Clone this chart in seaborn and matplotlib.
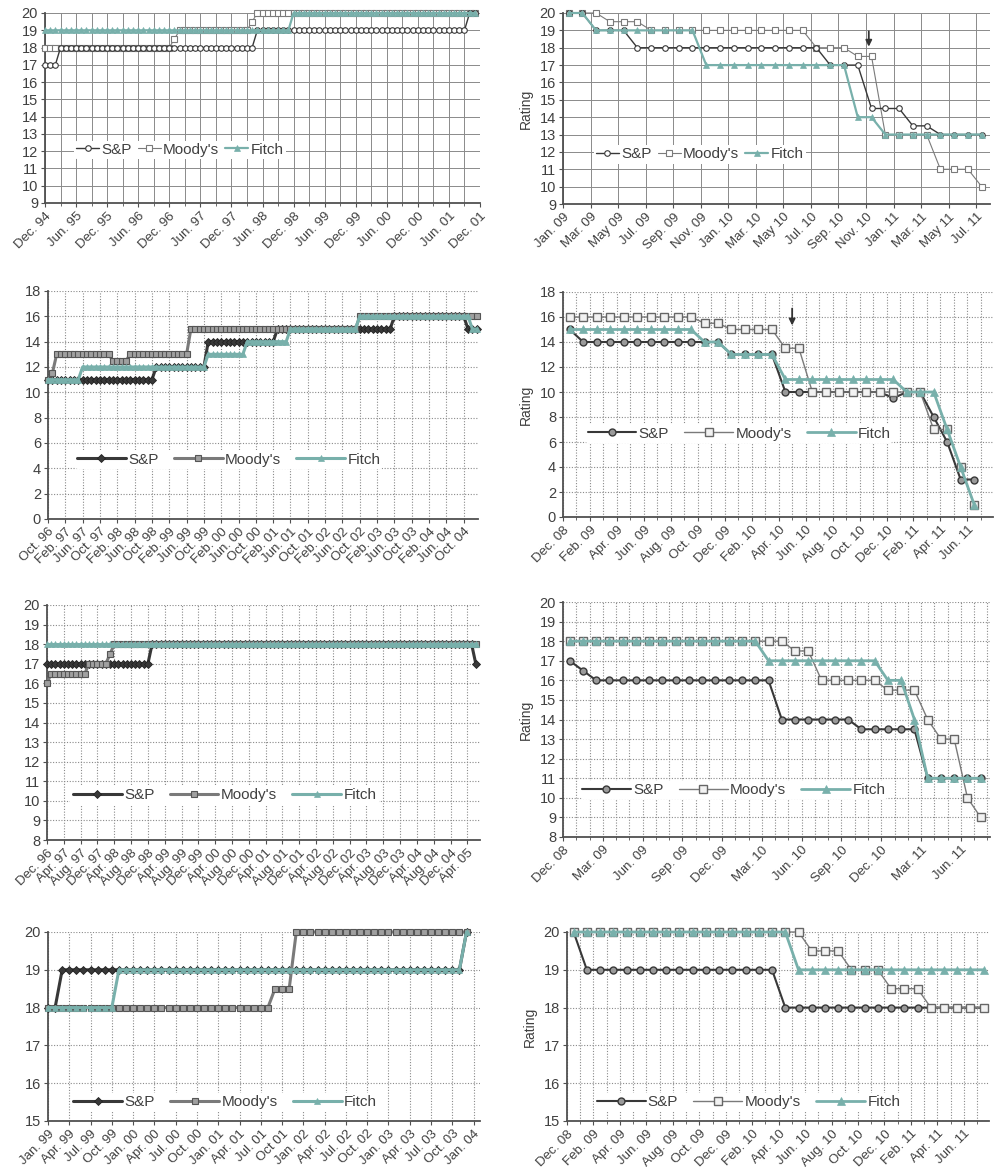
import numpy as np
import matplotlib
matplotlib.use('Agg')
import matplotlib.pyplot as plt
import seaborn as sns

sns.set_theme(style='white')
plt.rcParams['font.family'] = ['Liberation Sans', 'DejaVu Sans']

# colours of the three agencies
sp_color = '#383838'
moody_color = '#7a7a7a'
fitch_color = '#78b0ab'
text_color = '#404040'

# panel 1: monthly, dec 94 to nov 01
p1_labels = ['Dec. 94', 'Jun. 95', 'Dec. 95', 'Jun. 96', 'Dec. 96', 'Jun. 97', 'Dec. 97', 'Jun. 98',
             'Dec. 98', 'Jun. 99', 'Dec. 99', 'Jun. 00', 'Dec. 00', 'Jun. 01', 'Dec. 01']
p1_sp = [17] * 3 + [18] * 38 + [19] * 41 + [20] * 2
p1_moody = [18] * 25 + [18.5] + [19] * 14 + [19.5] + [20] * 43
p1_fitch = [19] * 48 + [20] * 36

# panel 2: monthly, jan 09 to jul 11
p2_labels = ['Jan. 09', 'Mar. 09', 'May 09', 'Jul. 09', 'Sep. 09', 'Nov. 09', 'Jan. 10', 'Mar. 10',
             'May 10', 'Jul. 10', 'Sep. 10', 'Nov. 10', 'Jan. 11', 'Mar. 11', 'May 11', 'Jul. 11']
p2_sp = [20, 20, 19, 19, 19] + [18] * 14 + [17] * 3 + [14.5] * 3 + [13.5] * 2 + [13] * 4
p2_moody = [20] * 3 + [19.5] * 3 + [19] * 12 + [18] * 3 + [17.5] * 2 + [13] * 4 + [11] * 3 + [10]
p2_fitch = [20] * 2 + [19] * 8 + [17] * 11 + [14] * 2 + [13] * 8

# panel 3: monthly, oct 96 to jan 05
p3_labels = ['Oct. 96', 'Feb. 97', 'Jun. 97', 'Oct. 97', 'Feb. 98', 'Jun. 98', 'Oct. 98', 'Feb. 99',
             'Jun. 99', 'Oct. 99', 'Feb. 00', 'Jun. 00', 'Oct. 00', 'Feb. 01', 'Jun. 01', 'Oct. 01',
             'Feb. 02', 'Jun. 02', 'Oct. 02', 'Feb. 03', 'Jun. 03', 'Oct. 03', 'Feb. 04', 'Jun. 04', 'Oct. 04']
p3_sp = [11] * 25 + [12] * 12 + [14] * 16 + [15] * 27 + [16] * 17 + [15] * 3
p3_moody = [11, 11.5] + [13] * 13 + [12.5] * 4 + [13] * 14 + [15] * 39 + [16] * 28
p3_fitch = [11] * 8 + [12] * 29 + [13] * 9 + [14] * 10 + [15] * 16 + [16] * 26 + [15] * 2

# panel 4: monthly, dec 08 to jun 11
p4_labels = ['Dec. 08', 'Feb. 09', 'Apr. 09', 'Jun. 09', 'Aug. 09', 'Oct. 09', 'Dec. 09', 'Feb. 10',
             'Apr. 10', 'Jun. 10', 'Aug. 10', 'Oct. 10', 'Dec. 10', 'Feb. 11', 'Apr. 11', 'Jun. 11']
p4_sp = [15] + [14] * 11 + [13] * 4 + [10] * 8 + [9.5] + [10] * 2 + [8, 6, 3, 3]
p4_moody = [16] * 10 + [15.5] * 2 + [15] * 4 + [13.5] * 2 + [10] * 9 + [7, 7, 4, 1]
p4_fitch = [15] * 10 + [14] * 2 + [13] * 4 + [11] * 9 + [10] * 3 + [7, 4, 1]

# panel 5: monthly, dec 96 to jun 05
p5_labels = ['Dec. 96', 'Apr. 97', 'Aug. 97', 'Dec. 97', 'Apr. 98', 'Aug. 98', 'Dec. 98', 'Apr. 99',
             'Aug. 99', 'Dec. 99', 'Apr. 00', 'Aug. 00', 'Dec. 00', 'Apr. 01', 'Aug. 01', 'Dec. 01',
             'Apr. 02', 'Aug. 02', 'Dec. 02', 'Apr. 03', 'Aug. 03', 'Dec. 03', 'Apr. 04', 'Aug. 04',
             'Dec. 04', 'Apr. 05']
p5_sp = [17] * 25 + [18] * 77 + [17]
p5_moody = [16] + [16.5] * 9 + [17] * 5 + [17.5] + [18] * 87
p5_fitch = [18] * 103

# panel 6: monthly, dec 08 to jul 11
p6_labels = ['Dec. 08', 'Mar. 09', 'Jun. 09', 'Sep. 09', 'Dec. 09', 'Mar. 10', 'Jun. 10', 'Sep. 10',
             'Dec. 10', 'Mar. 11', 'Jun. 11']
p6_sp = [17, 16.5] + [16] * 14 + [14] * 6 + [13.5] * 5 + [11] * 5
p6_moody = [18] * 17 + [17.5] * 2 + [16] * 5 + [15.5] * 3 + [14] + [13] * 2 + [10] + [9]
p6_fitch = [18] * 15 + [17] * 9 + [16] * 2 + [14] + [11] * 5

# panel 7: monthly, jan 99 to dec 03
p7_labels = ['Jan. 99', 'Apr. 99', 'Jul. 99', 'Oct. 99', 'Jan. 00', 'Apr. 00', 'Jul. 00', 'Oct. 00',
             'Jan. 01', 'Apr. 01', 'Jul. 01', 'Oct 01', 'Jan. 02', 'Apr. 02', 'Jul. 02', 'Oct. 02',
             'Jan. 03', 'Apr. 03', 'Jul. 03', 'Oct. 03', 'Jan. 04']
p7_sp = [18] * 2 + [19] * 57 + [20]
p7_moody = [18] * 32 + [18.5] * 3 + [20] * 25
p7_fitch = [18] * 10 + [19] * 49 + [20]

# panel 8: monthly, dec 08 to jul 11
p8_labels = ['Dec. 08', 'Feb. 09', 'Apr. 09', 'Jun. 09', 'Aug. 09', 'Oct. 09', 'Dec. 09', 'Feb. 10',
             'Apr. 10', 'Jun. 10', 'Aug. 10', 'Oct. 10', 'Dec. 10', 'Feb. 11', 'Apr. 11', 'Jun. 11']
p8_sp = [20] + [19] * 15 + [18] * 16
p8_moody = [20] * 18 + [19.5] * 3 + [19] * 3 + [18.5] * 3 + [18] * 5
p8_fitch = [20] * 17 + [19] * 15

W, H = 1004, 1172
fig = plt.figure(figsize=(W / 100, H / 100), dpi=100)


def series_styles(kind):
    # marker / line look of each agency, per family of panels
    if kind == 'thin':
        sp = dict(color=sp_color, linewidth=1.0, marker='o', markersize=4, markerfacecolor='white',
                  markeredgecolor=sp_color, markeredgewidth=0.8)
        mo = dict(color=moody_color, linewidth=0.8, marker='s', markersize=5, markerfacecolor='white',
                  markeredgecolor=moody_color, markeredgewidth=0.8)
        fi = dict(color=fitch_color, linewidth=1.6, marker='^', markersize=4.5, markerfacecolor=fitch_color,
                  markeredgecolor=fitch_color, markeredgewidth=0.5)
    elif kind == 'thick':
        sp = dict(color=sp_color, linewidth=2.2, marker='D', markersize=4.5, markerfacecolor=sp_color,
                  markeredgecolor='#222222', markeredgewidth=0.6)
        mo = dict(color=moody_color, linewidth=2.2, marker='s', markersize=5, markerfacecolor='#a0a0a0',
                  markeredgecolor='#555555', markeredgewidth=0.8)
        fi = dict(color=fitch_color, linewidth=2.2, marker='^', markersize=5, markerfacecolor=fitch_color,
                  markeredgecolor=fitch_color, markeredgewidth=0.5)
    else:
        sp = dict(color=sp_color, linewidth=1.5, marker='o', markersize=5, markerfacecolor='#9a9a9a',
                  markeredgecolor=sp_color, markeredgewidth=1.0)
        mo = dict(color=moody_color, linewidth=1.0, marker='s', markersize=6, markerfacecolor='#f2f2f2',
                  markeredgecolor='#666666', markeredgewidth=1.0)
        fi = dict(color=fitch_color, linewidth=2.0, marker='^', markersize=6, markerfacecolor=fitch_color,
                  markeredgecolor=fitch_color, markeredgewidth=0.5)
    return sp, mo, fi


def draw_panel(box, sp, moody, fitch, labels, step, offset, xmax, ylim, ystep, kind, leg_xy,
               grid_step, rating=False, arrow=None):
    left, top, right, bottom = box
    ax = fig.add_axes([left / W, 1 - bottom / H, (right - left) / W, (bottom - top) / H])
    xs = np.arange(len(sp)) + offset
    st_sp, st_mo, st_fi = series_styles(kind)
    # in the top row s&p sits over moody's, elsewhere moody's sits over s&p
    z_sp, z_mo = (4, 3) if kind == 'thin' else (3, 4)
    sns.lineplot(x=xs, y=sp, ax=ax, label='S&P', estimator=None, sort=False, clip_on=False, zorder=z_sp, **st_sp)
    sns.lineplot(x=xs, y=moody, ax=ax, label="Moody's", estimator=None, sort=False, clip_on=False, zorder=z_mo, **st_mo)
    sns.lineplot(x=xs, y=fitch, ax=ax, label='Fitch', estimator=None, sort=False, clip_on=False, zorder=5, **st_fi)

    ax.set_xlim(0, xmax)
    ax.set_ylim(*ylim)
    ax.set_yticks(np.arange(ylim[0], ylim[1] + 0.1, ystep))
    ax.set_xticks(np.arange(len(labels)) * step)
    ax.set_xticklabels(labels, rotation=45, ha='right', rotation_mode='anchor', fontsize=9.5, color=text_color)
    ax.set_xticks(np.arange(0, xmax, grid_step), minor=True)
    for t in ax.get_yticklabels():
        t.set_fontsize(10.5)
        t.set_color(text_color)

    # grid: solid in the top row, dotted below
    if kind == 'thin':
        gkw = dict(color='#8a8a8a', linewidth=0.7, linestyle='-')
    else:
        gkw = dict(color='#8a8a8a', linewidth=0.8, linestyle=(0, (1, 1.5)))
    ax.grid(True, which='both', axis='x', **gkw)
    ax.grid(True, which='major', axis='y', **gkw)
    ax.set_axisbelow(True)

    for s in ['top', 'right']:
        ax.spines[s].set_visible(False)
    for s in ['left', 'bottom']:
        ax.spines[s].set_color('#505050')
        ax.spines[s].set_linewidth(1.3)
    ax.tick_params(axis='both', which='major', bottom=True, left=True, length=3, width=0.8,
                   color='#505050', pad=2)
    ax.tick_params(axis='x', which='minor', bottom=True, length=2, width=0.6, color='#505050')

    ax.set_xlabel('')
    if rating:
        ax.set_ylabel('Rating', fontsize=10, color=text_color, labelpad=5)
    else:
        ax.set_ylabel('')

    if kind == 'thin':
        leg = ax.legend(loc='center', bbox_to_anchor=leg_xy, ncol=3, fontsize=11, handlelength=1.5,
                        handletextpad=0.15, columnspacing=0.4, borderpad=0.15, frameon=True,
                        facecolor='white', edgecolor='none', framealpha=1)
    else:
        leg = ax.legend(loc='center', bbox_to_anchor=leg_xy, ncol=3, fontsize=11, handlelength=3.2,
                        handletextpad=0.15, columnspacing=1.0, borderpad=0.15, frameon=True,
                        facecolor='white', edgecolor='none', framealpha=1)
    for t in leg.get_texts():
        t.set_color(text_color)
    leg.set_zorder(10)

    if arrow is not None:
        ax.annotate('', xy=(arrow[0], arrow[2]), xytext=(arrow[0], arrow[1]),
                    arrowprops=dict(arrowstyle='-|>', color='#333333', lw=1.3, mutation_scale=9),
                    zorder=6)
    return ax


draw_panel((45, 13, 480, 203), p1_sp, p1_moody, p1_fitch, p1_labels, 6, 0, 84, (9, 20), 1,
           'thin', (0.31, 0.28), 3)
draw_panel((563, 13, 990, 204), p2_sp, p2_moody, p2_fitch, p2_labels, 2, 0.4, 31, (9, 20), 1,
           'thin', (0.32, 0.26), 2, rating=True, arrow=(22.2, 19.1, 17.9))
draw_panel((48, 291, 478, 519), p3_sp, p3_moody, p3_fitch, p3_labels, 4, 0, 99.3, (0, 18), 2,
           'thick', (0.42, 0.26), 4)
draw_panel((563, 292, 993, 517), p4_sp, p4_moody, p4_fitch, p4_labels, 2, 0.5, 31.9, (0, 18), 2,
           'mixed', (0.41, 0.37), 1, rating=True, arrow=(17.0, 16.9, 15.1))
draw_panel((47, 605, 480, 840), p5_sp, p5_moody, p5_fitch, p5_labels, 4, 0, 103, (8, 20), 1,
           'thick', (0.41, 0.19), 4)
draw_panel((563, 602, 990, 837), p6_sp, p6_moody, p6_fitch, p6_labels, 3, 0.5, 32.2, (8, 20), 1,
           'mixed', (0.40, 0.20), 1, rating=True)
draw_panel((48, 932, 480, 1121), p7_sp, p7_moody, p7_fitch, p7_labels, 3, 0, 60.9, (15, 20), 1,
           'thick', (0.41, 0.10), 3)
draw_panel((567, 932, 989, 1121), p8_sp, p8_moody, p8_fitch, p8_labels, 2, 0.5, 31.9, (15, 20), 1,
           'mixed', (0.43, 0.10), 1, rating=True)

plt.savefig('out.png', dpi=100)
